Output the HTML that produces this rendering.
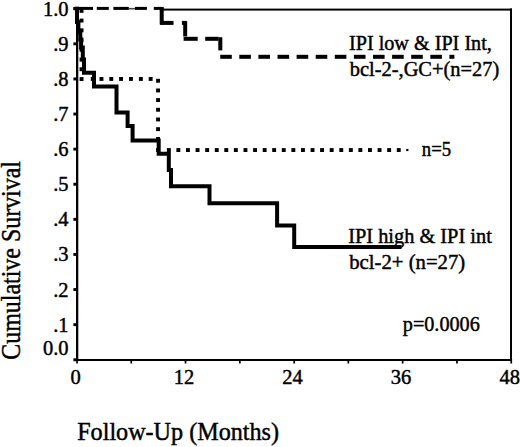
<!DOCTYPE html>
<html><head><meta charset="utf-8"><style>
html,body{margin:0;padding:0;background:#fff;width:520px;height:447px;overflow:hidden;font-family:"Liberation Serif",serif}
svg{display:block}
</style></head><body>
<svg width="520" height="447" viewBox="0 0 520 447">
<rect width="520" height="447" fill="#fff"/>
<rect x="76" y="8" width="2.3" height="353" fill="#000"/>
<rect x="76" y="359" width="436" height="2" fill="#000"/>
<rect x="510" y="8.5" width="2" height="352.5" fill="#000"/>
<rect x="160" y="8.6" width="352" height="2" fill="#000"/>
<rect x="73.4" y="358.3" width="3" height="2.9" fill="#000"/>
<rect x="73.4" y="323.2" width="3" height="2.9" fill="#000"/>
<rect x="73.4" y="288.1" width="3" height="2.9" fill="#000"/>
<rect x="73.4" y="253.0" width="3" height="2.9" fill="#000"/>
<rect x="73.4" y="217.9" width="3" height="2.9" fill="#000"/>
<rect x="73.4" y="182.8" width="3" height="2.9" fill="#000"/>
<rect x="73.4" y="147.7" width="3" height="2.9" fill="#000"/>
<rect x="73.4" y="112.6" width="3" height="2.9" fill="#000"/>
<rect x="73.4" y="77.5" width="3" height="2.9" fill="#000"/>
<rect x="73.4" y="42.4" width="3" height="2.9" fill="#000"/>
<rect x="73.4" y="7.3" width="3" height="2.9" fill="#000"/>
<rect x="76.2" y="359" width="1.7" height="4.5" fill="#000"/>
<rect x="130.4" y="359" width="1.7" height="4.5" fill="#000"/>
<rect x="184.7" y="359" width="1.7" height="4.5" fill="#000"/>
<rect x="239.0" y="359" width="1.7" height="4.5" fill="#000"/>
<rect x="293.3" y="359" width="1.7" height="4.5" fill="#000"/>
<rect x="347.5" y="359" width="1.7" height="4.5" fill="#000"/>
<rect x="401.8" y="359" width="1.7" height="4.5" fill="#000"/>
<rect x="456.1" y="359" width="1.7" height="4.5" fill="#000"/>
<rect x="510.4" y="359" width="1.7" height="4.5" fill="#000"/>
<rect x="73.5" y="6.9" width="19.5" height="3.0" fill="#000"/>
<rect x="96.8" y="6.9" width="12.0" height="3.0" fill="#000"/>
<rect x="113.4" y="6.9" width="15.4" height="3.0" fill="#000"/>
<rect x="135.0" y="6.9" width="11.9" height="3.0" fill="#000"/>
<rect x="153.8" y="6.9" width="9.5" height="3.0" fill="#000"/>
<rect x="128.8" y="7.9" width="6.2" height="1.6" fill="#000" opacity="0.7"/>
<rect x="159.7" y="7.1" width="4.0" height="17.3" fill="#000"/>
<rect x="160.1" y="20.9" width="13.4" height="4.0" fill="#000"/>
<rect x="181.9" y="20.9" width="4.9" height="4.0" fill="#000"/>
<rect x="183.2" y="21.3" width="4.0" height="15.1" fill="#000"/>
<rect x="183.6" y="36.8" width="14.1" height="4.0" fill="#000"/>
<rect x="205.2" y="36.8" width="13.3" height="4.0" fill="#000"/>
<rect x="218.3" y="37.2" width="4.0" height="13.2" fill="#000"/>
<rect x="220.2" y="54.8" width="11.6" height="4.0" fill="#000"/>
<rect x="239.3" y="54.8" width="11.6" height="4.0" fill="#000"/>
<rect x="258.4" y="54.8" width="11.6" height="4.0" fill="#000"/>
<rect x="277.5" y="54.8" width="11.6" height="4.0" fill="#000"/>
<rect x="296.6" y="54.8" width="11.6" height="4.0" fill="#000"/>
<rect x="315.7" y="54.8" width="11.6" height="4.0" fill="#000"/>
<rect x="334.8" y="54.8" width="11.6" height="4.0" fill="#000"/>
<rect x="353.9" y="54.8" width="11.6" height="4.0" fill="#000"/>
<rect x="373.0" y="54.8" width="11.6" height="4.0" fill="#000"/>
<rect x="392.1" y="54.8" width="11.6" height="4.0" fill="#000"/>
<rect x="411.2" y="54.8" width="11.6" height="4.0" fill="#000"/>
<rect x="430.3" y="54.8" width="11.6" height="4.0" fill="#000"/>
<rect x="449.4" y="54.8" width="5.0" height="4.0" fill="#000"/>
<rect x="79.6" y="8.9" width="3.9" height="3.9" fill="#000"/>
<rect x="79.6" y="18.6" width="3.9" height="3.9" fill="#000"/>
<rect x="79.6" y="28.4" width="3.9" height="3.9" fill="#000"/>
<rect x="79.6" y="38.1" width="3.9" height="3.9" fill="#000"/>
<rect x="79.6" y="47.8" width="3.9" height="3.9" fill="#000"/>
<rect x="79.6" y="57.6" width="3.9" height="3.9" fill="#000"/>
<rect x="79.6" y="67.3" width="3.9" height="3.9" fill="#000"/>
<rect x="79.6" y="77.1" width="3.9" height="3.9" fill="#000"/>
<rect x="90.8" y="77.0" width="3.9" height="3.9" fill="#000"/>
<rect x="99.5" y="77.0" width="3.9" height="3.9" fill="#000"/>
<rect x="109.3" y="77.0" width="3.9" height="3.9" fill="#000"/>
<rect x="119.1" y="77.0" width="3.9" height="3.9" fill="#000"/>
<rect x="129.0" y="77.0" width="3.9" height="3.9" fill="#000"/>
<rect x="138.9" y="77.0" width="3.9" height="3.9" fill="#000"/>
<rect x="148.7" y="77.0" width="3.9" height="3.9" fill="#000"/>
<rect x="156.1" y="78.8" width="3.9" height="3.9" fill="#000"/>
<rect x="156.1" y="88.5" width="3.9" height="3.9" fill="#000"/>
<rect x="156.1" y="98.1" width="3.9" height="3.9" fill="#000"/>
<rect x="156.1" y="107.8" width="3.9" height="3.9" fill="#000"/>
<rect x="156.1" y="117.5" width="3.9" height="3.9" fill="#000"/>
<rect x="156.1" y="127.2" width="3.9" height="3.9" fill="#000"/>
<rect x="156.1" y="137.0" width="3.9" height="3.9" fill="#000"/>
<rect x="156.1" y="148.1" width="3.9" height="3.9" fill="#000"/>
<rect x="166.9" y="148.1" width="3.9" height="3.9" fill="#000"/>
<rect x="176.4" y="148.1" width="3.9" height="3.9" fill="#000"/>
<rect x="186.0" y="148.1" width="3.9" height="3.9" fill="#000"/>
<rect x="195.6" y="148.1" width="3.9" height="3.9" fill="#000"/>
<rect x="205.2" y="148.1" width="3.9" height="3.9" fill="#000"/>
<rect x="214.8" y="148.1" width="3.9" height="3.9" fill="#000"/>
<rect x="224.3" y="148.1" width="3.9" height="3.9" fill="#000"/>
<rect x="233.9" y="148.1" width="3.9" height="3.9" fill="#000"/>
<rect x="243.5" y="148.1" width="3.9" height="3.9" fill="#000"/>
<rect x="253.1" y="148.1" width="3.9" height="3.9" fill="#000"/>
<rect x="262.7" y="148.1" width="3.9" height="3.9" fill="#000"/>
<rect x="272.2" y="148.1" width="3.9" height="3.9" fill="#000"/>
<rect x="281.8" y="148.1" width="3.9" height="3.9" fill="#000"/>
<rect x="291.4" y="148.1" width="3.9" height="3.9" fill="#000"/>
<rect x="301.0" y="148.1" width="3.9" height="3.9" fill="#000"/>
<rect x="310.6" y="148.1" width="3.9" height="3.9" fill="#000"/>
<rect x="320.1" y="148.1" width="3.9" height="3.9" fill="#000"/>
<rect x="329.7" y="148.1" width="3.9" height="3.9" fill="#000"/>
<rect x="339.3" y="148.1" width="3.9" height="3.9" fill="#000"/>
<rect x="348.9" y="148.1" width="3.9" height="3.9" fill="#000"/>
<rect x="358.4" y="148.1" width="3.9" height="3.9" fill="#000"/>
<rect x="368.0" y="148.1" width="3.9" height="3.9" fill="#000"/>
<rect x="377.6" y="148.1" width="3.9" height="3.9" fill="#000"/>
<rect x="387.2" y="148.1" width="3.9" height="3.9" fill="#000"/>
<rect x="396.8" y="148.1" width="3.9" height="3.9" fill="#000"/>
<rect x="406.2" y="148.9" width="2.2" height="2.2" fill="#000"/>
<path d="M77,8.7 V22 H78.4 V32 H80.3 V39.5 H81.1 V47.5 H82.8 V59.5 H84 V72.8 H94 V86.5 H116.5 V112.5 H127.6 V125.9 H132.6 V140.5 H158.7 V153.7 H168.8 V170 H171 V186.3 H209.5 V203.2 H277.1 V225.4 H294.2 V247 H399.5" fill="none" stroke="#000" stroke-width="4.0" stroke-linejoin="miter" stroke-linecap="square"/>
<text x="68.6" y="355.2" font-family="Liberation Serif" font-size="20.5" text-anchor="end" stroke="#000" stroke-width="0.45" >0.0</text>
<text x="68.6" y="331.6" font-family="Liberation Serif" font-size="20.5" text-anchor="end" stroke="#000" stroke-width="0.45" >.1</text>
<text x="68.6" y="296.5" font-family="Liberation Serif" font-size="20.5" text-anchor="end" stroke="#000" stroke-width="0.45" >.2</text>
<text x="68.6" y="261.4" font-family="Liberation Serif" font-size="20.5" text-anchor="end" stroke="#000" stroke-width="0.45" >.3</text>
<text x="68.6" y="226.3" font-family="Liberation Serif" font-size="20.5" text-anchor="end" stroke="#000" stroke-width="0.45" >.4</text>
<text x="68.6" y="191.2" font-family="Liberation Serif" font-size="20.5" text-anchor="end" stroke="#000" stroke-width="0.45" >.5</text>
<text x="68.6" y="156.1" font-family="Liberation Serif" font-size="20.5" text-anchor="end" stroke="#000" stroke-width="0.45" >.6</text>
<text x="68.6" y="121.0" font-family="Liberation Serif" font-size="20.5" text-anchor="end" stroke="#000" stroke-width="0.45" >.7</text>
<text x="68.6" y="85.9" font-family="Liberation Serif" font-size="20.5" text-anchor="end" stroke="#000" stroke-width="0.45" >.8</text>
<text x="68.6" y="50.8" font-family="Liberation Serif" font-size="20.5" text-anchor="end" stroke="#000" stroke-width="0.45" >.9</text>
<text x="68.6" y="15.7" font-family="Liberation Serif" font-size="20.5" text-anchor="end" stroke="#000" stroke-width="0.45" >1.0</text>
<text x="75.5" y="383.9" font-family="Liberation Serif" font-size="20.5" text-anchor="middle" stroke="#000" stroke-width="0.45" >0</text>
<text x="184.0" y="383.9" font-family="Liberation Serif" font-size="20.5" text-anchor="middle" stroke="#000" stroke-width="0.45" >12</text>
<text x="292.6" y="383.9" font-family="Liberation Serif" font-size="20.5" text-anchor="middle" stroke="#000" stroke-width="0.45" >24</text>
<text x="401.1" y="383.9" font-family="Liberation Serif" font-size="20.5" text-anchor="middle" stroke="#000" stroke-width="0.45" >36</text>
<text x="509.7" y="383.9" font-family="Liberation Serif" font-size="20.5" text-anchor="middle" stroke="#000" stroke-width="0.45" >48</text>
<text x="349.00" y="50.3" font-family="Liberation Serif" font-size="21.2" textLength="142.82" lengthAdjust="spacingAndGlyphs" stroke="#000" stroke-width="0.45">IPI low &amp; IPI Int,</text>
<text x="349.80" y="75.5" font-family="Liberation Serif" font-size="20.8" textLength="149.41" lengthAdjust="spacingAndGlyphs" stroke="#000" stroke-width="0.45">bcl-2-,GC+(n=27)</text>
<text x="421.80" y="155.5" font-family="Liberation Serif" font-size="20.8" textLength="29.42" lengthAdjust="spacingAndGlyphs" stroke="#000" stroke-width="0.45">n=5</text>
<text x="348.20" y="242.8" font-family="Liberation Serif" font-size="21.0" textLength="143.60" lengthAdjust="spacingAndGlyphs" stroke="#000" stroke-width="0.45">IPI high &amp; IPI int</text>
<text x="349.20" y="269.3" font-family="Liberation Serif" font-size="20.8" textLength="116.01" lengthAdjust="spacingAndGlyphs" stroke="#000" stroke-width="0.45">bcl-2+ (n=27)</text>
<text x="402.80" y="331.0" font-family="Liberation Serif" font-size="20.8" textLength="77.01" lengthAdjust="spacingAndGlyphs" stroke="#000" stroke-width="0.45">p=0.0006</text>
<text x="77.20" y="439.8" font-family="Liberation Serif" font-size="25" textLength="201.81" lengthAdjust="spacingAndGlyphs" stroke="#000" stroke-width="0.45">Follow-Up (Months)</text>
<text x="-359.80" y="0" transform="translate(19.8,0) rotate(-90)" font-family="Liberation Serif" font-size="27.5" textLength="198.81" lengthAdjust="spacingAndGlyphs" stroke="#000" stroke-width="0.45">Cumulative Survival</text>
</svg>
</body></html>
